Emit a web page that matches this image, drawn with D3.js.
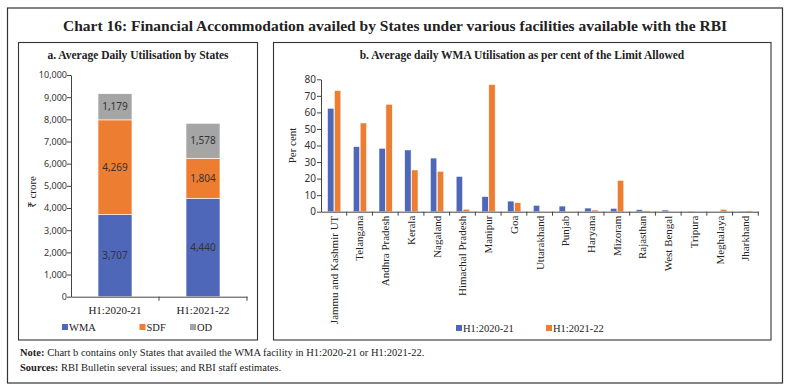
<!DOCTYPE html>
<html>
<head>
<meta charset="utf-8">
<script src="https://cdn.jsdelivr.net/npm/d3@7"></script>
<style>
  body { margin: 0; background: #fff; }
  svg { display: block; }
  .serif { font-family: "Liberation Serif", "Noto Sans", serif; }
  .sans { font-family: "Noto Sans", sans-serif; }
</style>
</head>
<body>
<svg id="chart" width="789" height="392"></svg>
<script>
// panel a data
const periods = ['H1:2020-21', 'H1:2021-22'];
const facilities = ['WMA', 'SDF', 'OD'];
const wma = [3707, 4440];
const sdf = [4269, 1804];
const od = [1179, 1578];
const ticksA = [0, 1000, 2000, 3000, 4000, 5000, 6000, 7000, 8000, 9000, 10000];

// panel b data
const states = ['Jammu and Kashmir UT', 'Telangana', 'Andhra Pradesh', 'Kerala', 'Nagaland',
    'Himachal Pradesh', 'Manipur', 'Goa', 'Uttarakhand', 'Punjab', 'Haryana', 'Mizoram',
    'Rajasthan', 'West Bengal', 'Tripura', 'Meghalaya', 'Jharkhand'];
const series = ['H1:2020-21', 'H1:2021-22'];
const util2021 = [62.5, 39.3, 38.3, 37.3, 32.4, 21.3, 9.1, 6.4, 3.8, 3.4, 2.2, 2.0, 1.2, 1.0, 0.2, 0, 0.2];
const util2122 = [73.2, 53.6, 64.9, 25.2, 24.4, 1.5, 76.8, 5.4, 0, 0, 1.0, 18.9, 0.6, 0, 0, 1.4, 0.5];
const ticksB = [0, 10, 20, 30, 40, 50, 60, 70, 80];

const colors = {
    WMA: '#4f67b9',
    SDF: '#ed7d31',
    OD: '#a5a5a5',
    'H1:2020-21': '#4f67b9',
    'H1:2021-22': '#ed7d31'
};
const ink = '#222';

const svg = d3.select('#chart');

// frames
svg.append('rect').attr('x', 7.5).attr('y', 8).attr('width', 775).attr('height', 375)
    .attr('fill', 'none').attr('stroke', '#333').attr('stroke-width', 1.2);
svg.append('rect').attr('x', 18.5).attr('y', 42.5).attr('width', 239).attr('height', 297.5)
    .attr('fill', 'none').attr('stroke', '#333').attr('stroke-width', 1.1);
svg.append('rect').attr('x', 273.5).attr('y', 42.5).attr('width', 497.5).attr('height', 297.5)
    .attr('fill', 'none').attr('stroke', '#333').attr('stroke-width', 1.1);

svg.append('text').attr('class', 'serif')
    .attr('x', 395).attr('y', 31).attr('text-anchor', 'middle')
    .style('font-size', '15.5px').style('font-weight', 'bold').attr('fill', ink)
    .text('Chart 16: Financial Accommodation availed by States under various facilities available with the RBI');

// ---------- panel a ----------
const gA = svg.append('g');
gA.append('text').attr('class', 'serif')
    .attr('x', 138).attr('y', 59).attr('text-anchor', 'middle')
    .style('font-size', '11.5px').style('font-weight', 'bold').attr('fill', ink)
    .text('a. Average Daily Utilisation by States');

const xA = d3.scaleBand().domain(periods).range([71, 247]).padding(0);
const yA = d3.scaleLinear().domain([0, 10000]).range([296.7, 75]);

const tableA = periods.map((p, i) => ({ period: p, WMA: wma[i], SDF: sdf[i], OD: od[i] }));
const stacked = d3.stack().keys(facilities)(tableA);

const barW = xA.bandwidth() * 0.386;
const layer = gA.selectAll('g.layer').data(stacked).enter().append('g')
    .attr('fill', d => colors[d.key]);
layer.selectAll('rect').data(d => d).enter().append('rect')
    .attr('x', d => xA(d.data.period) + (xA.bandwidth() - barW) / 2)
    .attr('width', barW)
    .attr('y', d => yA(d[1]))
    .attr('height', d => yA(d[0]) - yA(d[1]))
    .attr('stroke', '#fff').attr('stroke-width', 0.6);
layer.selectAll('text').data(d => d.map(v => Object.assign({ key: d.key }, v))).enter().append('text')
    .attr('class', 'sans')
    .attr('x', d => xA(d.data.period) + xA.bandwidth() / 2)
    .attr('y', d => (yA(d[0]) + yA(d[1])) / 2 + 3.5)
    .attr('text-anchor', 'middle')
    .style('font-size', '10px').attr('fill', '#333')
    .text(d => d3.format(',')(d.data[d.key]));

const axA = gA.append('g').attr('transform', `translate(71,0)`)
    .call(d3.axisLeft(yA).tickValues(ticksA).tickFormat(d3.format(',')).tickSize(4).tickSizeOuter(0));
axA.selectAll('text').attr('class', 'sans').style('font-size', '9px').attr('fill', '#333').attr('x', -4);
axA.selectAll('line, path').attr('stroke', '#444');

const bxA = gA.append('g').attr('transform', `translate(0,${yA(0)})`)
    .call(d3.axisBottom(xA).tickSize(0).tickPadding(10));
bxA.selectAll('text').attr('class', 'serif').style('font-size', '11px').attr('fill', ink);
bxA.select('path').attr('stroke', '#444');
gA.selectAll('line.sep').data(periods).enter().append('line').attr('class', 'sep')
    .attr('x1', d => xA(d) + xA.bandwidth()).attr('x2', d => xA(d) + xA.bandwidth())
    .attr('y1', yA(0)).attr('y2', yA(0) + 4).attr('stroke', '#444');

gA.append('text').attr('class', 'serif')
    .attr('transform', `translate(36,${(yA(0) + yA(10000)) / 2 + 6}) rotate(-90)`)
    .attr('text-anchor', 'middle').style('font-size', '11px').attr('fill', ink)
    .text('₹ crore');

const legA = gA.selectAll('g.leg').data(facilities).enter().append('g')
    .attr('transform', (d, i) => `translate(${[62, 139.5, 190][i]},324)`);
legA.append('rect').attr('width', 6).attr('height', 6).attr('fill', d => colors[d]);
legA.append('text').attr('class', 'serif').attr('x', 7).attr('y', 7)
    .style('font-size', '10.5px').attr('fill', ink).text(d => d);

// ---------- panel b ----------
const gB = svg.append('g');
gB.append('text').attr('class', 'serif')
    .attr('x', 522).attr('y', 59).attr('text-anchor', 'middle')
    .style('font-size', '11.5px').style('font-weight', 'bold').attr('fill', ink)
    .text('b. Average daily WMA Utilisation as per cent of the Limit Allowed');

const xB = d3.scaleBand().domain(states).range([321, 758.3]).padding(0);
const bw = xB.bandwidth();
const x1 = d3.scaleBand().domain(series).range([0.255 * bw, 0.77 * bw]).paddingInner(0.08);
const yB = d3.scaleLinear().domain([0, 80]).range([211.7, 79.3]);

const tableB = states.map((s, i) => ({ state: s, values: [util2021[i], util2122[i]] }));
const grp = gB.selectAll('g.grp').data(tableB).enter().append('g')
    .attr('transform', d => `translate(${xB(d.state)},0)`);
grp.selectAll('rect').data(d => d.values.map((v, j) => ({ key: series[j], v }))).enter().append('rect')
    .attr('x', d => x1(d.key)).attr('width', x1.bandwidth())
    .attr('y', d => yB(d.v)).attr('height', d => yB(0) - yB(d.v))
    .attr('fill', d => colors[d.key])
    .attr('stroke', '#fff').attr('stroke-width', 0.5);

const axB = gB.append('g').attr('transform', `translate(321,0)`)
    .call(d3.axisLeft(yB).tickValues(ticksB).tickSize(4).tickSizeOuter(0));
axB.selectAll('text').attr('class', 'sans').style('font-size', '10px').attr('fill', '#333').attr('x', -5);
axB.selectAll('line, path').attr('stroke', '#444');

const bxB = gB.append('g').attr('transform', `translate(0,${yB(0)})`)
    .call(d3.axisBottom(xB).tickSize(0));
bxB.select('path').attr('stroke', '#444');
bxB.selectAll('text').attr('class', 'serif').style('font-size', '11px').attr('fill', ink)
    .attr('transform', 'rotate(-90)').attr('text-anchor', 'end')
    .attr('x', -4).attr('y', 0).attr('dy', '0.35em');
gB.selectAll('line.sep').data(states).enter().append('line').attr('class', 'sep')
    .attr('x1', d => xB(d) + bw).attr('x2', d => xB(d) + bw)
    .attr('y1', yB(0)).attr('y2', yB(0) + 4).attr('stroke', '#444');

gB.append('text').attr('class', 'serif')
    .attr('transform', `translate(296,${(yB(0) + yB(80)) / 2}) rotate(-90)`)
    .attr('text-anchor', 'middle').style('font-size', '11px').attr('fill', ink)
    .text('Per cent');

const legB = gB.selectAll('g.leg').data(series).enter().append('g')
    .attr('transform', (d, i) => `translate(${[456, 546][i]},325)`);
legB.append('rect').attr('width', 6).attr('height', 6).attr('fill', d => colors[d]);
legB.append('text').attr('class', 'serif').attr('x', 7).attr('y', 6.5)
    .style('font-size', '10.5px').attr('fill', ink).text(d => d);

// notes
const note = svg.append('text').attr('class', 'serif').attr('x', 20).attr('y', 356)
    .style('font-size', '10.5px').attr('fill', ink);
note.append('tspan').style('font-weight', 'bold').text('Note: ');
note.append('tspan').text('Chart b contains only States that availed the WMA facility in H1:2020-21 or H1:2021-22.');
const src = svg.append('text').attr('class', 'serif').attr('x', 20).attr('y', 371)
    .style('font-size', '10.5px').attr('fill', ink);
src.append('tspan').style('font-weight', 'bold').text('Sources: ');
src.append('tspan').text('RBI Bulletin several issues; and RBI staff estimates.');
</script>
</body>
</html>
